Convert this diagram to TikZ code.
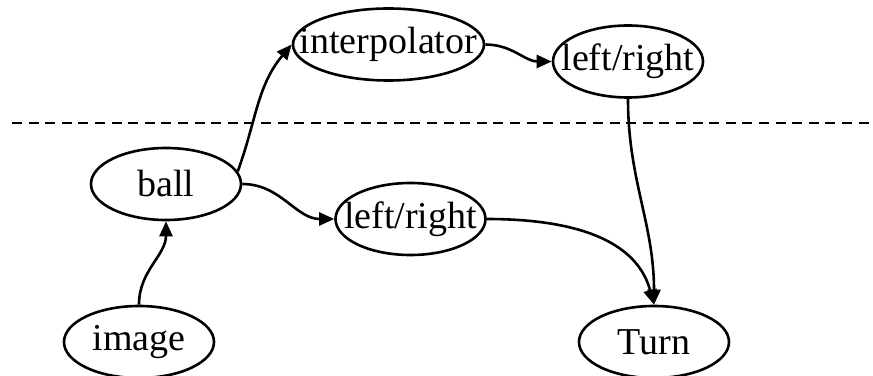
\documentclass[tikz,border=0pt]{standalone}
\usepackage{fontspec}
\setmainfont{Liberation Serif}
\usepackage{tikz}
\usetikzlibrary{shapes.geometric, arrows.meta}
\tikzstyle{oval} = [ellipse, minimum width=75pt, minimum height=36pt, inner xsep=-15pt, inner ysep=0pt, text centered, draw=black, line width=1.3pt, font=\fontsize{19}{21}\selectfont]
\tikzstyle{arrow} = [line width=1.3pt,-{Triangle[length=7.5pt,width=6.5pt]}]
\tikzstyle{divider} = [line width=1.3pt, dash pattern=on 5pt off 3.3pt]

\begin{document}
\begin{tikzpicture}[node distance=79pt, x=1pt, y=1pt]
	
	\useasboundingbox (-69.5,-16.5) rectangle (367,171);
	
	\node (image) [oval] {image};
	\node (ball) [oval, above of=image, xshift=13.5pt] {ball};
	\node (turn) [oval, xshift=257.5pt] {Turn};
	\node (left1) [oval, right of=ball, xshift=43.25pt, yshift=-17.5pt] {left/right};
	\node (interp) [oval, above of=ball, xshift=111.25pt, yshift=-9.25pt, minimum width=95.5pt] {interpolator};
	\node (left2) [oval, above of=turn, xshift=-13pt, yshift=61.25pt] {left/right};
	
	\coordinate (dashL) at (-63.5,109.5);
	\coordinate (dashR) at (367,109.5);
	\draw [divider] (dashL) -- (dashR);
	
	\draw [arrow] (image.north) to[out=90, in=-90] (ball.south);
	\draw [arrow] (ball.10) to[out=70, in=-130] (interp.west);
	\draw [arrow] (ball.east) to[out=0, in=180] (left1.west);
	\draw [arrow] (interp.east) to[out=0, in=180] (left2.west);
	\draw [arrow] (left2.south) to[out=-90, in=90] (turn.north);
	\draw [arrow] (left1.east) to[out=0, in=105] (turn.north);
	
\end{tikzpicture}
\end{document}
